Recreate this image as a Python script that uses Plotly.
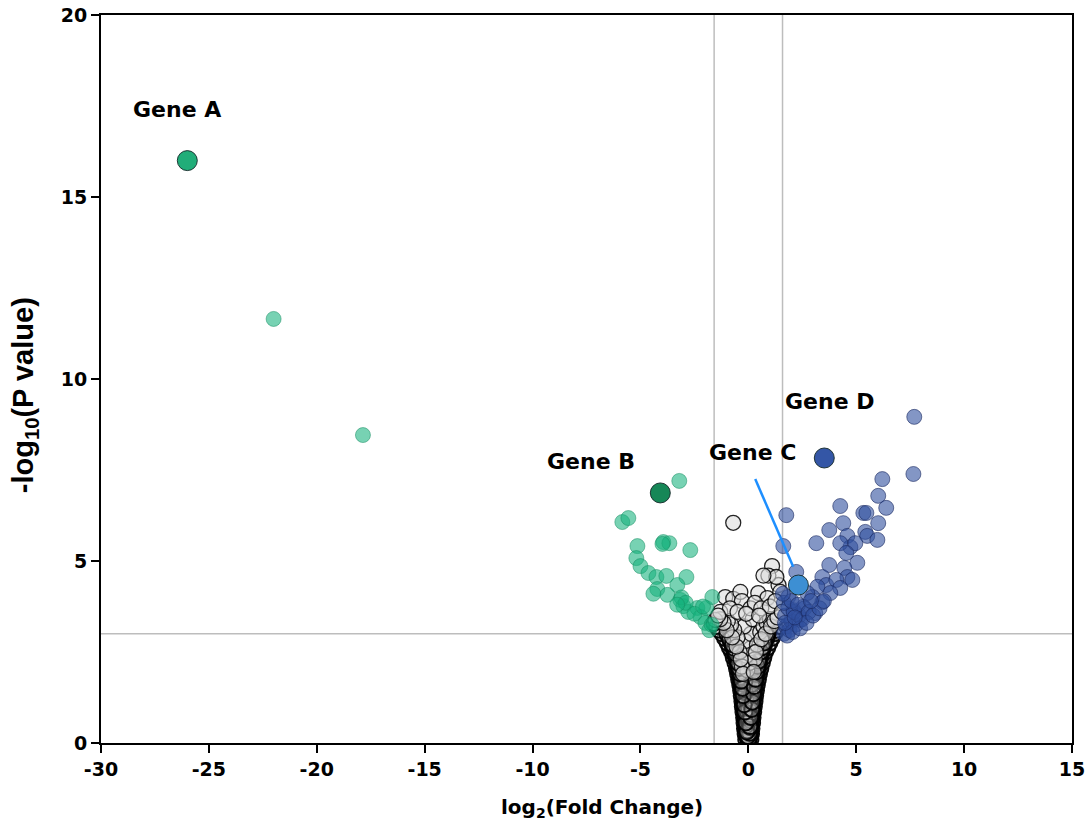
import plotly.graph_objects as go

# ---------------- data ----------------
gray_x = [0.0, 0.02, -0.03, 0.04, -0.05, 0.06, -0.06, 0.07, -0.08, 0.08, -0.09, 0.1, -0.1, 0.11, -0.12, 0.12,
          -0.13, 0.14, -0.15, 0.15, -0.16, 0.17, -0.18, 0.18, -0.2,
          -0.12, -0.15, -0.18, -0.2, -0.22, -0.25, -0.28, -0.3, -0.33, -0.36, -0.4, -0.45, -0.5, -0.55, -0.62,
          -0.7, -0.78, -0.88, -0.98, -1.1, -1.22, -1.35, -1.48, -1.6,
          0.12, 0.15, 0.17, 0.2, 0.22, 0.25, 0.28, 0.31, 0.34, 0.38, 0.42, 0.47, 0.52, 0.58, 0.65, 0.72, 0.8,
          0.9, 1.0, 1.1, 1.2, 1.32, 1.45,
          -0.08, -0.1, -0.13, -0.15, -0.17, -0.2, -0.22, -0.25, -0.28, -0.32, -0.36, -0.4, -0.45, -0.5, -0.56,
          -0.63, -0.7, -0.8, -0.9, -1.0,
          0.08, 0.1, 0.12, 0.15, 0.17, 0.2, 0.22, 0.25, 0.28, 0.31, 0.35, 0.4, 0.44, 0.5, 0.55, 0.62, 0.7,
          0.78, 0.88, 0.95,
          0.0, 0.0, 0.0, 0.05, -0.02, 0.03, -0.04, 0.02, 0.0,
          -0.05, 0.05, -0.1, 0.1, -0.14, 0.14, -0.18, 0.18, -0.22, 0.22, -0.26, 0.26, -0.3, 0.3, -0.35, 0.35,
          -0.4, 0.4, -0.46, 0.46, -0.52, 0.52, -0.6, 0.6, -0.68, 0.68, -0.76, 0.76, -0.86, 0.86,
          0.0, 0.03, -0.03, 0.06, -0.06, 0.09, -0.09, 0.0, 0.04, -0.04, 0.07, -0.07, 0.0, 0.1, -0.1, 0.13,
          -0.13, 0.16, -0.16, 0.0,
          -0.07, 0.07, -0.11, 0.11, -0.16, 0.16, -0.19, 0.19, -0.24, 0.24, -0.27, 0.27, -0.33, 0.33, -0.38, 0.38,
          -0.43, 0.43, -0.48, 0.48, -0.58, 0.58, -0.66, 0.66, -0.74, 0.74]
gray_y = [0.02, 0.08, 0.15, 0.22, 0.3, 0.38, 0.45, 0.52, 0.6, 0.68, 0.75, 0.82, 0.9, 0.98, 1.05, 1.12,
          1.2, 1.28, 1.35, 1.42, 1.5, 1.58, 1.65, 1.72, 1.8,
          0.1, 0.25, 0.4, 0.55, 0.7, 0.85, 1.0, 1.15, 1.3, 1.45, 1.6, 1.75, 1.9, 2.05, 2.2,
          2.35, 2.5, 2.62, 2.75, 2.88, 3.0, 3.1, 3.2, 3.28,
          0.1, 0.25, 0.4, 0.55, 0.7, 0.85, 1.0, 1.15, 1.3, 1.45, 1.6, 1.75, 1.9, 2.05, 2.2, 2.35, 2.5,
          2.62, 2.75, 2.88, 3.0, 3.1, 3.2,
          0.2, 0.35, 0.5, 0.65, 0.8, 0.95, 1.1, 1.25, 1.4, 1.55, 1.7, 1.85, 2.0, 2.15, 2.3,
          2.45, 2.6, 2.75, 2.9, 3.0,
          0.2, 0.35, 0.5, 0.65, 0.8, 0.95, 1.1, 1.25, 1.4, 1.55, 1.7, 1.85, 2.0, 2.15, 2.3, 2.45, 2.6,
          2.75, 2.9, 3.05,
          0.5, 1.0, 1.5, 0.3, 0.7, 1.2, 1.7, 2.0, 0.0,
          0.15, 0.25, 0.4, 0.5, 0.65, 0.75, 0.9, 1.0, 1.15, 1.25, 1.4, 1.5, 1.62, 1.7, 1.8, 1.88,
          1.95, 2.05, 2.1, 2.2, 2.25, 2.35, 2.4, 2.5, 2.55, 2.65, 2.7, 2.8, 2.85, 2.95,
          0.05, 0.12, 0.18, 0.27, 0.33, 0.42, 0.48, 0.58, 0.63, 0.72, 0.78, 0.86, 0.95, 1.08, 1.18, 1.32,
          1.38, 1.6, 1.68, 2.2,
          0.3, 0.45, 0.55, 0.7, 0.85, 0.92, 1.05, 1.12, 1.3, 1.35, 1.5, 1.55, 1.7, 1.75, 1.9, 1.95,
          2.05, 2.1, 2.2, 2.25, 2.45, 2.5, 2.6, 2.62, 2.7, 2.75]

# lighter grey points in the upper part of the funnel
gray_top_x = [-0.05, 0.05, -0.1, 0.1, -0.15, 0.12, -0.2, 0.2, -0.3, 0.3, -0.4, 0.4, -0.5, 0.55, -0.65, 0.7,
              -0.8, 0.85, -0.95, 1.0, -0.25, 0.25, -0.35, 0.35, -0.55, 0.6, -0.75, 0.8, -1.0, 1.05, -1.15,
              1.2, -1.3, 1.35,
              -1.53, -1.3, -1.07, -0.7, -0.37, -0.3, 0.46, 0.88, 1.4, 1.48, 1.1, 0.93, 1.3, 0.7, -0.7, -0.85,
              -0.5, 0.1, 0.3, 0.6, 1.0, 1.25, -0.1, 0.5, -1.4, 1.55]
gray_top_y = [2.0, 2.2, 2.4, 2.6, 2.8, 3.0, 3.2, 3.4, 2.1, 2.3, 2.5, 2.7, 2.9, 3.05, 3.1, 3.2,
              3.25, 3.3, 3.35, 3.4, 1.9, 1.95, 2.3, 2.5, 2.65, 2.85, 2.9, 3.0, 3.1, 3.2, 3.3,
              3.35, 3.4, 3.45,
              3.38, 3.6, 4.01, 3.96, 4.15, 3.9, 4.12, 3.98, 4.34, 4.15, 4.86, 4.6, 4.56, 4.6, 6.05, 3.7,
              3.6, 3.7, 3.85, 3.7, 3.75, 3.9, 3.55, 3.5, 3.5, 3.6]

green_x = [-22.0, -17.86, -3.2, -5.84, -5.56, -3.94, -3.66, -3.98, -2.69, -5.14, -5.19, -5.0, -4.63, -4.26,
           -3.8, -2.87, -3.29, -4.22, -3.75, -3.15, -3.01, -2.78, -2.36, -1.95, -1.67, -2.22, -1.99, -1.81,
           -3.1, -2.9, -3.3, -2.5, -1.7, -2.1, -4.4]
green_y = [11.65, 8.46, 7.2, 6.07, 6.18, 5.52, 5.49, 5.47, 5.3, 5.41, 5.08, 4.86, 4.67, 4.56,
           4.59, 4.56, 4.34, 4.23, 4.07, 3.93, 3.76, 3.6, 3.71, 3.71, 4.01, 3.46, 3.3, 3.1,
           4.0, 3.85, 3.8, 3.55, 3.25, 3.75, 4.1]

blue_x = [7.69, 7.65, 6.21, 6.02, 6.39, 4.26, 5.33, 5.47, 1.76, 6.02, 4.40, 3.75, 5.42, 5.51, 5.98, 3.15,
          1.62, 4.59, 4.73, 4.96, 4.26, 5.05, 4.54, 3.75, 2.22, 4.45, 4.59, 4.82, 3.43, 3.61, 4.08, 4.26,
          3.20, 2.97, 3.80, 3.43, 2.73, 1.85, 2.55, 2.09, 3.1, 2.4,
          1.65, 1.75, 1.9, 2.0, 1.7, 2.2, 2.35, 1.85, 2.1, 2.5, 2.6, 1.65, 2.0, 2.3, 2.8, 1.8, 2.05, 2.4,
          2.7, 3.0, 1.7, 2.15, 3.3, 3.5, 2.9, 1.6]
blue_y = [8.96, 7.39, 7.25, 6.79, 6.46, 6.51, 6.32, 6.32, 6.26, 6.04, 6.04, 5.85, 5.80, 5.69, 5.58, 5.49,
          5.41, 5.69, 5.38, 5.49, 5.49, 4.95, 5.22, 4.89, 4.70, 4.81, 4.56, 4.48, 4.56, 4.34, 4.48, 4.26,
          4.29, 4.01, 4.12, 3.87, 4.12, 4.01, 3.74, 3.65, 3.57, 3.38,
          3.0, 3.2, 3.1, 3.35, 3.5, 3.25, 3.5, 3.7, 3.6, 3.4, 3.7, 3.85, 3.9, 3.8, 3.6, 2.95, 3.05, 3.15,
          3.3, 3.5, 3.3, 3.45, 3.7, 3.9, 3.9, 4.1]

genes = ["Gene A", "Gene B", "Gene C", "Gene D"]
gene_x = [-26.0, -4.08, 2.32, 3.52]
gene_y = [16.0, 6.87, 4.34, 7.83]
gene_colors = ["#21ad79", "#168757", "#3d8fd3", "#3456a6"]

label_x = [-26.5, -7.3, 0.2, 3.75]
label_y = [17.4, 7.72, 7.97, 9.37]

fc_cut = 1.585
p_cut = 3.0

x_ticks = [-30, -25, -20, -15, -10, -5, 0, 5, 10, 15]
y_ticks = [0, 5, 10, 15, 20]

# ---------------- figure ----------------
fig = go.Figure()

fig.add_trace(go.Scatter(
    x=gray_x, y=gray_y, mode="markers",
    marker=dict(size=15, color="rgba(200,200,200,0.3)",
                line=dict(color="rgba(0,0,0,0.95)", width=2)),
    hoverinfo="skip", showlegend=False))

fig.add_trace(go.Scatter(
    x=gray_top_x, y=gray_top_y, mode="markers",
    marker=dict(size=15, color="rgba(220,220,220,0.6)",
                line=dict(color="rgba(0,0,0,0.85)", width=1.3)),
    hoverinfo="skip", showlegend=False))

fig.add_trace(go.Scatter(
    x=green_x, y=green_y, mode="markers",
    marker=dict(size=15, color="rgba(20,178,124,0.58)",
                line=dict(color="rgba(20,140,95,0.5)", width=1)),
    showlegend=False))

fig.add_trace(go.Scatter(
    x=blue_x, y=blue_y, mode="markers",
    marker=dict(size=15, color="rgba(48,80,158,0.6)",
                line=dict(color="rgba(25,40,95,0.6)", width=1)),
    showlegend=False))

fig.add_trace(go.Scatter(
    x=gene_x, y=gene_y, mode="markers",
    marker=dict(size=20, color=gene_colors,
                line=dict(color="rgba(20,40,40,0.9)", width=1)),
    showlegend=False))

# threshold lines
for xv in (-fc_cut, fc_cut):
    fig.add_shape(type="line", x0=xv, x1=xv, y0=0, y1=20, xref="x", yref="y",
                  line=dict(color="#bdbdbd", width=1.5), layer="below")
fig.add_shape(type="line", x0=-30, x1=15, y0=p_cut, y1=p_cut, xref="x", yref="y",
              line=dict(color="#bdbdbd", width=1.5), layer="below")

# Gene C pointer line
fig.add_shape(type="line", x0=0.32, y0=7.25, x1=2.08, y1=4.84, xref="x", yref="y",
              line=dict(color="#1e8fff", width=2.5))

for name, lx, ly in zip(genes, label_x, label_y):
    fig.add_annotation(x=lx, y=ly, text=f"<b>{name}</b>", showarrow=False,
                       font=dict(family="DejaVu Sans", size=22, color="black"))

# axis titles
fig.add_annotation(xref="paper", yref="paper", x=0.516, y=-0.089,
                   xanchor="center", yanchor="middle",
                   text="<b>log<sub>2</sub>(Fold Change)</b>", showarrow=False,
                   font=dict(family="DejaVu Sans", size=20, color="black"))
fig.add_annotation(xref="paper", yref="paper", x=-0.078, y=0.478, textangle=-90,
                   xanchor="center", yanchor="middle",
                   text="<b>-log<sub>10</sub>(P value)</b>", showarrow=False,
                   font=dict(family="Liberation Sans", size=29, color="black"))

axis_font = dict(family="DejaVu Sans", size=19, color="black")
fig.update_xaxes(range=[-30, 15], tickvals=x_ticks, ticktext=[f"<b>{v}</b>" for v in x_ticks],
                 showgrid=False, zeroline=False, showline=True, linecolor="black", linewidth=2,
                 mirror=True, ticks="outside", ticklen=8, tickwidth=1.5, tickcolor="black",
                 tickfont=axis_font, automargin=False)
fig.update_yaxes(range=[0, 20], tickvals=y_ticks, ticktext=[f"<b>{v}</b>" for v in y_ticks],
                 showgrid=False, zeroline=False, showline=True, linecolor="black", linewidth=2,
                 mirror=True, ticks="outside", ticklen=8, tickwidth=1.5, tickcolor="black",
                 tickfont=axis_font, automargin=False)

fig.update_layout(width=1086, height=831, margin=dict(l=101, r=14, t=15, b=88),
                  paper_bgcolor="white", plot_bgcolor="white")

fig.write_html("out.html")
